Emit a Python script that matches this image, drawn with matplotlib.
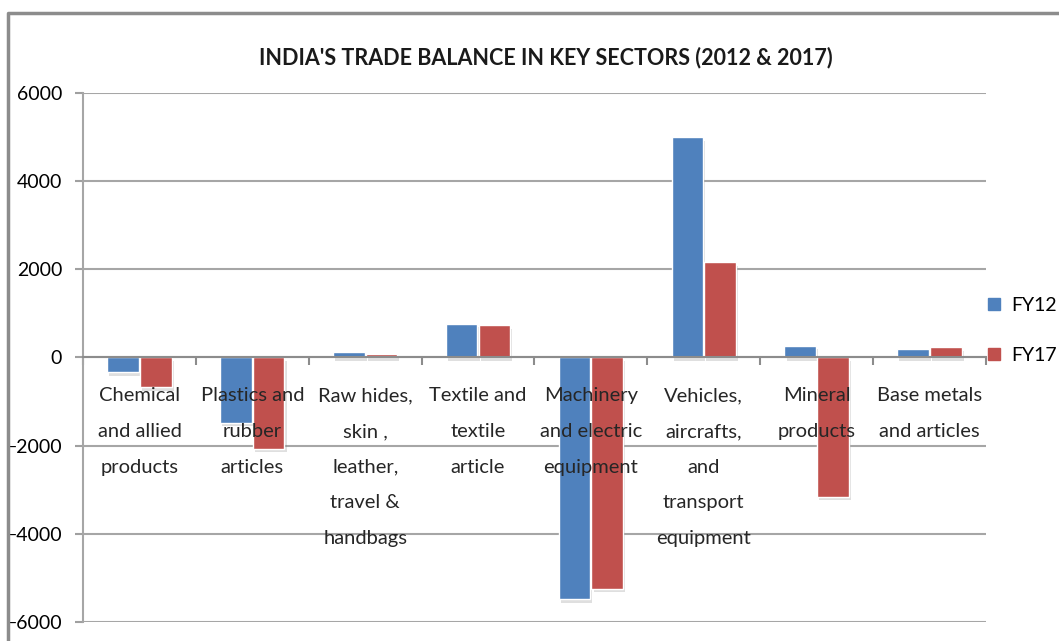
import numpy as np
import matplotlib.pyplot as plt
import matplotlib.patheffects as pe
from matplotlib.lines import Line2D

plt.rcParams['font.family'] = ['Lato', 'DejaVu Sans']

sectors = ["Chemical\nand allied\nproducts",
           "Plastics and\nrubber\narticles",
           "Raw hides,\nskin ,\nleather,\ntravel &\nhandbags",
           "Textile and\ntextile\narticle",
           "Machinery\nand electric\nequipment",
           "Vehicles,\naircrafts,\nand\ntransport\nequipment",
           "Mineral\nproducts",
           "Base metals\nand articles"]
fy12 = [-340, -1480, 115, 770, -5480, 5000, 270, 200]
fy17 = [-680, -2070, 70, 730, -5250, 2160, -3160, 230]

blue = '#4F81BD'
red = '#C0504D'

fig = plt.figure(figsize=(10.59, 6.41), dpi=100)
ax = fig.add_axes([0.0784, 0.0296, 0.931 - 0.0784, 0.855 - 0.0296])

x = np.arange(len(sectors))
w = 0.28
shadow = [pe.SimplePatchShadow(offset=(1.5, -2.5), shadow_rgbFace='gray', alpha=0.25), pe.Normal()]
b1 = ax.bar(x - 0.145, fy12, w, color=blue, edgecolor='white', linewidth=1, label='FY12', zorder=3)
b2 = ax.bar(x + 0.145, fy17, w, color=red, edgecolor='white', linewidth=1, label='FY17', zorder=3)
for b in list(b1) + list(b2):
    b.set_path_effects(shadow)

ax.set_xlim(-0.5, len(sectors) - 0.5)
ax.set_ylim(-6000, 6000)
ax.set_yticks(np.arange(-6000, 6001, 2000))
ax.tick_params(axis='y', labelsize=14, length=6, color='#a0a0a0', width=1.5, pad=9)
ax.yaxis.grid(True, color='#a6a6a6', linewidth=1.5, zorder=0)

ax.spines['top'].set_visible(False)
ax.spines['right'].set_visible(False)
ax.spines['left'].set_color('#a6a6a6')
ax.spines['left'].set_linewidth(1.5)
ax.spines['bottom'].set_position(('data', 0))
ax.spines['bottom'].set_color('#8c8c8c')
ax.spines['bottom'].set_linewidth(1.5)
ax.spines['bottom'].set_zorder(4)
ax.set_xticks(np.arange(-0.5, len(sectors), 1))
ax.set_xticklabels([])
ax.tick_params(axis='x', length=6, color='#8c8c8c', width=1.5, direction='out')

for i, s in enumerate(sectors):
    ax.annotate(s, xy=(i, 0), xytext=(0, -21.5), textcoords='offset points',
                ha='center', va='top', fontsize=14.5, color='#262626',
                linespacing=2.33, zorder=5)

fig.text(0.515, 0.911, "INDIA'S TRADE BALANCE IN KEY SECTORS (2012 & 2017)",
         ha='center', va='center', fontsize=15.5, fontweight='bold', color='#1a1a1a')

handles = [Line2D([], [], marker='s', linestyle='none', markersize=9, color=blue),
           Line2D([], [], marker='s', linestyle='none', markersize=9, color=red)]
fig.legend(handles, ['FY12', 'FY17'], loc='center left', bbox_to_anchor=(0.933, 0.485),
           frameon=False, fontsize=14, labelspacing=1.7, handlelength=0.6,
           handletextpad=0.6, borderpad=0, borderaxespad=0)

fig.add_artist(Line2D([0.0075, 0.0075, 1.0], [0.0, 0.98, 0.98],
                      transform=fig.transFigure, color='#8c8c8c', linewidth=2.5))

fig.savefig('out.png', dpi=100)
